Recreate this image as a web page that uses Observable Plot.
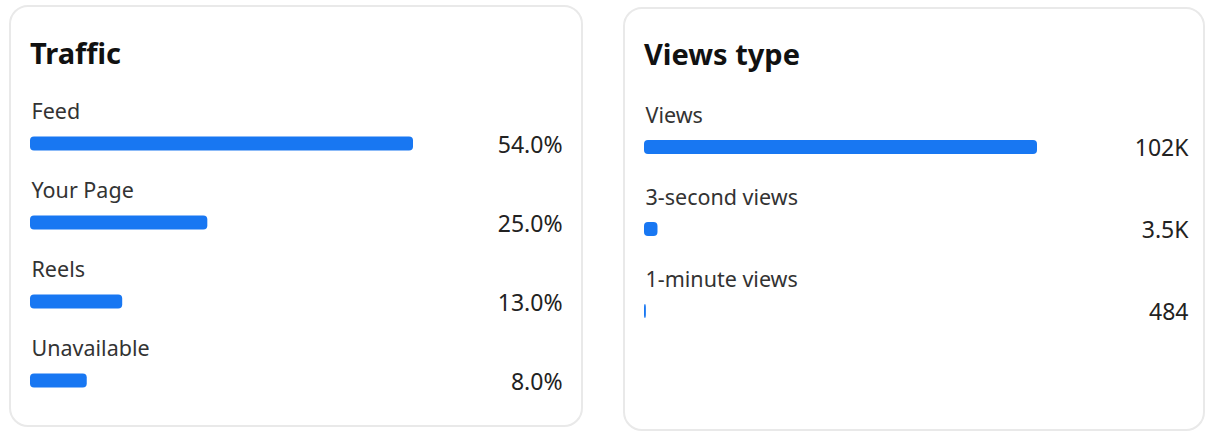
<!DOCTYPE html>
<html>
<head>
<meta charset="utf-8">
<script src="https://cdn.jsdelivr.net/npm/d3@7"></script>
<script src="https://cdn.jsdelivr.net/npm/@observablehq/plot@0.6"></script>
<style>
  html, body { margin: 0; padding: 0; background: #ffffff; }
  #root { position: relative; width: 1206px; height: 432px; overflow: hidden; font-family: "Noto Sans", sans-serif; }
  .card { position: absolute; box-sizing: border-box; border: 2px solid #e9e9e9; border-radius: 19px; background: #fff; }
  .title { position: absolute; font-weight: 700; font-size: 29px; color: #111; line-height: 1; }
  .plot { position: absolute; }
</style>
</head>
<body>
<div id="root">
  <div class="card" style="left:9px;top:5px;width:574px;height:422px;"></div>
  <div class="card" style="left:623px;top:7px;width:582px;height:424px;"></div>
  <div class="title" id="t1" style="left:30px;top:38px;">Traffic</div>
  <div class="title" id="t2" style="left:644px;top:39px;">Views type</div>
  <div class="plot" id="p1" style="left:10px;top:80px;"></div>
  <div class="plot" id="p2" style="left:623px;top:80px;"></div>
</div>
<script>
// Traffic card
const trafficTitle = "Traffic";
const trafficCategories = ["Feed", "Your Page", "Reels", "Unavailable"];
const trafficValues = [54.0, 25.0, 13.0, 8.0];
const trafficLabels = ["54.0%", "25.0%", "13.0%", "8.0%"];

// Views type card
const viewsTitle = "Views type";
const viewsCategories = ["Views", "3-second views", "1-minute views"];
const viewsValues = [102000, 3500, 484];
const viewsLabels = ["102K", "3.5K", "484"];

const BLUE = "#1877f2";

function card(categories, values, labels, opts) {
  const data = categories.map((c, i) => ({cat: c, value: values[i], label: labels[i]}));
  return Plot.plot({
    width: opts.width,
    height: opts.height,
    marginLeft: opts.marginLeft,
    marginRight: opts.marginRight,
    marginTop: opts.marginTop,
    marginBottom: opts.marginBottom,
    style: {background: "transparent", overflow: "visible"},
    x: {domain: [0, d3.max(values)], axis: null},
    y: {domain: categories, padding: 0, axis: null},
    marks: [
      Plot.barX(data, {
        x: "value", y: "cat", fill: BLUE, rx: 4,
        insetTop: opts.inset, insetBottom: opts.inset
      }),
      Plot.text(data, {
        y: "cat", text: "cat", frameAnchor: "left", textAnchor: "start",
        dx: 1, dy: opts.labelDy, fontSize: 21.5, fill: "#333",
        fontFamily: "Noto Sans"
      }),
      Plot.text(data, {
        y: "cat", text: "label", frameAnchor: "right", textAnchor: "end",
        dx: opts.valueDx, dy: opts.valueDy, fontSize: 23, fill: "#222",
        fontFamily: "Noto Sans"
      })
    ]
  });
}

document.getElementById("t1").textContent = trafficTitle;
document.getElementById("t2").textContent = viewsTitle;

document.getElementById("p1").appendChild(card(trafficCategories, trafficValues, trafficLabels, {
  width: 573, height: 352, marginLeft: 20, marginRight: 170,
  marginTop: 22.5, marginBottom: 10, inset: 32.4,
  labelDy: -31.5, valueDx: 149, valueDy: 1.5
}));

document.getElementById("p2").appendChild(card(viewsCategories, viewsValues, viewsLabels, {
  width: 583, height: 352, marginLeft: 21, marginRight: 169,
  marginTop: 25.5, marginBottom: 80.5, inset: 34,
  labelDy: -31, valueDx: 151, valueDy: 1.5
}));
</script>
</body>
</html>
